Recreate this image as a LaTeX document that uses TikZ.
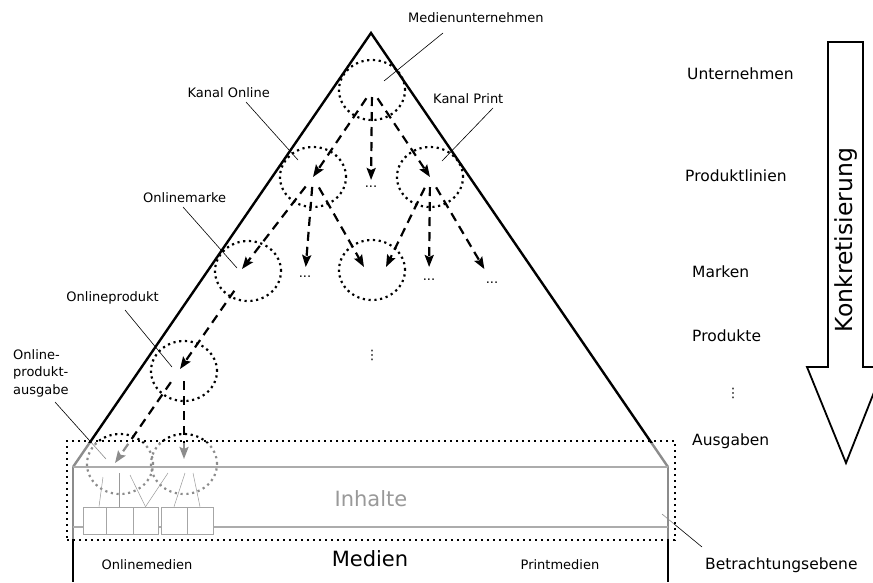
\documentclass[tikz,border=0pt]{standalone}
\usepackage{fontspec}
\setmainfont{DejaVu Sans}
\usetikzlibrary{arrows.meta,shapes.geometric,calc}
\tikzset{
  circ/.style={draw, ellipse, line width=2.2pt, dash pattern=on 2.2pt off 3.6pt, minimum width=66pt, minimum height=60pt, inner sep=0pt},
  arr/.style={line width=2.2pt, dash pattern=on 9pt off 6pt, -{Stealth[length=12pt,width=9pt,inset=2pt]}},
  lead/.style={line width=0.6pt},
  small/.style={font=\fontsize{13}{17.5}\selectfont, inner sep=0pt},
  level/.style={font=\fontsize{15.5}{18}\selectfont, inner sep=0pt, anchor=west},
  big/.style={font=\fontsize{21}{24}\selectfont, inner sep=0pt},
  tri/.style={line width=2.4pt},
  grayline/.style={line width=2pt, draw=gray!65},
  bx/.style={draw=gray!70, line width=0.6pt, fill=white, minimum height=27pt, inner sep=0pt},
  thin/.style={draw=gray!80, line width=0.5pt},
  dotbox/.style={draw, rectangle, line width=2.4pt, dash pattern=on 2.4pt off 3.6pt, inner sep=0pt}
}
\begin{document}
\begin{tikzpicture}[x=1pt,y=-1pt]
\useasboundingbox (0,0) rectangle (873,582);
\clip (0,0) rectangle (873,582);

% triangle and verticals
\coordinate (apex) at (371,33);
\coordinate (bl) at (73,467);
\coordinate (br) at (668,467);
\coordinate (bl2) at (73,582);
\coordinate (br2) at (668,582);
\draw[tri] (bl) -- (apex) -- (br);
\draw[tri] (bl) -- (bl2);
\draw[tri] (br) -- (br2);

% circles
\node[circ] (mu) at (372,90) {};
\node[circ] (ko) at (313,177) {};
\node[circ] (kp) at (430,177) {};
\node[circ] (mm) at (372,270) {};
\node[circ] (om) at (248,271) {};
\node[circ] (op) at (184,371) {};
\node[circ] (ou1) at (120,464) {};
\node[circ] (ou2) at (184,464) {};

% dots
\node[small] (d1) at (371,187) {...};
\node[small] (d2) at (305,277) {...};
\node[small] (d3) at (429,280) {...};
\node[small] (d4) at (492,283) {...};
\node[small] (vd) at (372,355) {⋮};

\coordinate (mml) at (364,267);
\coordinate (mmr) at (386,267);
\coordinate (omt) at (242,269);
\coordinate (opa) at (180,369);
\coordinate (oua) at (115,463);

% arrows
\draw[arr, shorten <=10pt] (mu.center) -- (ko.center);
\draw[arr, shorten <=7pt, shorten >=6pt] (mu.center) -- (d1.north);
\draw[arr, shorten <=10pt] (mu.center) -- (kp.center);
\draw[arr, shorten <=12pt] (ko.center) -- (omt);
\draw[arr, shorten <=10pt, shorten >=9pt] (ko.center) -- (d2.north);
\draw[arr, shorten <=12pt] (ko.center) -- (mml);
\draw[arr, shorten <=12pt] (kp.center) -- (mmr);
\draw[arr, shorten <=10pt, shorten >=12pt] (kp.center) -- (d3.north);
\draw[arr, shorten <=12pt, shorten >=15pt] (kp.center) -- (d4.north);
\draw[arr, shorten <=24pt] (om.center) -- (opa);
\draw[arr, shorten <=16pt] (opa) -- (oua);
\draw[arr, shorten <=10pt, shorten >=5pt] (op.center) -- (ou2.center);

% labels with leaders
\node[small, anchor=west] (lmu) at (408,18) {Medienunternehmen};
\node[small, anchor=east] (lko) at (270,93) {Kanal Online};
\node[small, anchor=west] (lkp) at (433,99) {Kanal Print};
\node[small, anchor=west] (lom) at (143,198) {Onlinemarke};
\node[small, anchor=east] (lop) at (159,298) {Onlineprodukt};
\node[small, anchor=north west, align=left] (lopa) at (13,349) {Online-\\produkt-\\ausgabe};
\node[level] (lbe) at (705,565) {Betrachtungsebene};

\coordinate (lmu1) at (443,33);  \coordinate (lmu2) at (384,81);
\coordinate (lko1) at (246,102); \coordinate (lko2) at (298,160);
\coordinate (lkp1) at (493,108); \coordinate (lkp2) at (442,161);
\coordinate (lom1) at (183,207); \coordinate (lom2) at (237,268);
\coordinate (lop1) at (125,310); \coordinate (lop2) at (172,367);
\coordinate (lopa1) at (55,402); \coordinate (lopa2) at (106,459);
\coordinate (lbe1) at (702,547); \coordinate (lbe2) at (662,514);
\draw[lead] (lmu1) -- (lmu2);
\draw[lead] (lko1) -- (lko2);
\draw[lead] (lkp1) -- (lkp2);
\draw[lead] (lom1) -- (lom2);
\draw[lead] (lop1) -- (lop2);
\draw[lead] (lopa1) -- (lopa2);
\draw[lead] (lbe1) -- (lbe2);

% overlay of the observation plane
\fill[white, opacity=0.55] (68.5,442.5) rectangle (673.5,538.5);

% content layer
\draw[grayline] (bl) -- (br);
\draw[grayline] (73,527) -- (668,527);
\node[bx, minimum width=23pt] (b1) at (94.5,520.5) {};
\node[bx, minimum width=27pt] (b2) at (119.5,520.5) {};
\node[bx, minimum width=25pt] (b3) at (145.5,520.5) {};
\node[bx, minimum width=26pt] (b4) at (174,520.5) {};
\node[bx, minimum width=26pt] (b5) at (200,520.5) {};
\coordinate (t1) at (103,477); \coordinate (t2) at (119,473);
\coordinate (t3) at (130,475); \coordinate (t4) at (168,473);
\coordinate (t5) at (185,473); \coordinate (t6) at (193,473);
\draw[thin] (t1) -- (b1.north -| 99,0);
\draw[thin] (t2) -- (b2.north -| 119,0);
\draw[thin] (t3) -- (b3.north);
\draw[thin] (t4) -- (b3.north);
\draw[thin] (t5) -- (b4.north);
\draw[thin] (t6) -- (b5.north);
\node[big, text=gray!80] (inh) at (371,499) {Inhalte};

\node[dotbox, minimum width=608pt, minimum height=99pt] (be) at (371,490.5) {};

% bottom labels
\node[big] (med) at (370,559) {Medien};
\node[small] (onm) at (147,565) {Onlinemedien};
\node[small] (prm) at (560,565) {Printmedien};

% level labels
\node[level] (lu) at (687,74) {Unternehmen};
\node[level] (lpl) at (685,176) {Produktlinien};
\node[level] (lm) at (692,272) {Marken};
\node[level] (lp) at (692,336) {Produkte};
\node[small] (ld) at (733,393) {⋮};
\node[level] (la) at (692,441) {Ausgaben};

% Konkretisierung arrow
\draw[line width=1.8pt, line join=miter] (828,42) -- (863,42) -- (863,367) -- (884,367) -- (846,463) -- (807,367) -- (828,367) -- cycle;
\node[font=\fontsize{23.5}{26}\selectfont, rotate=90, inner sep=0pt] (kon) at (846,240) {Konkretisierung};
\end{tikzpicture}
\end{document}
